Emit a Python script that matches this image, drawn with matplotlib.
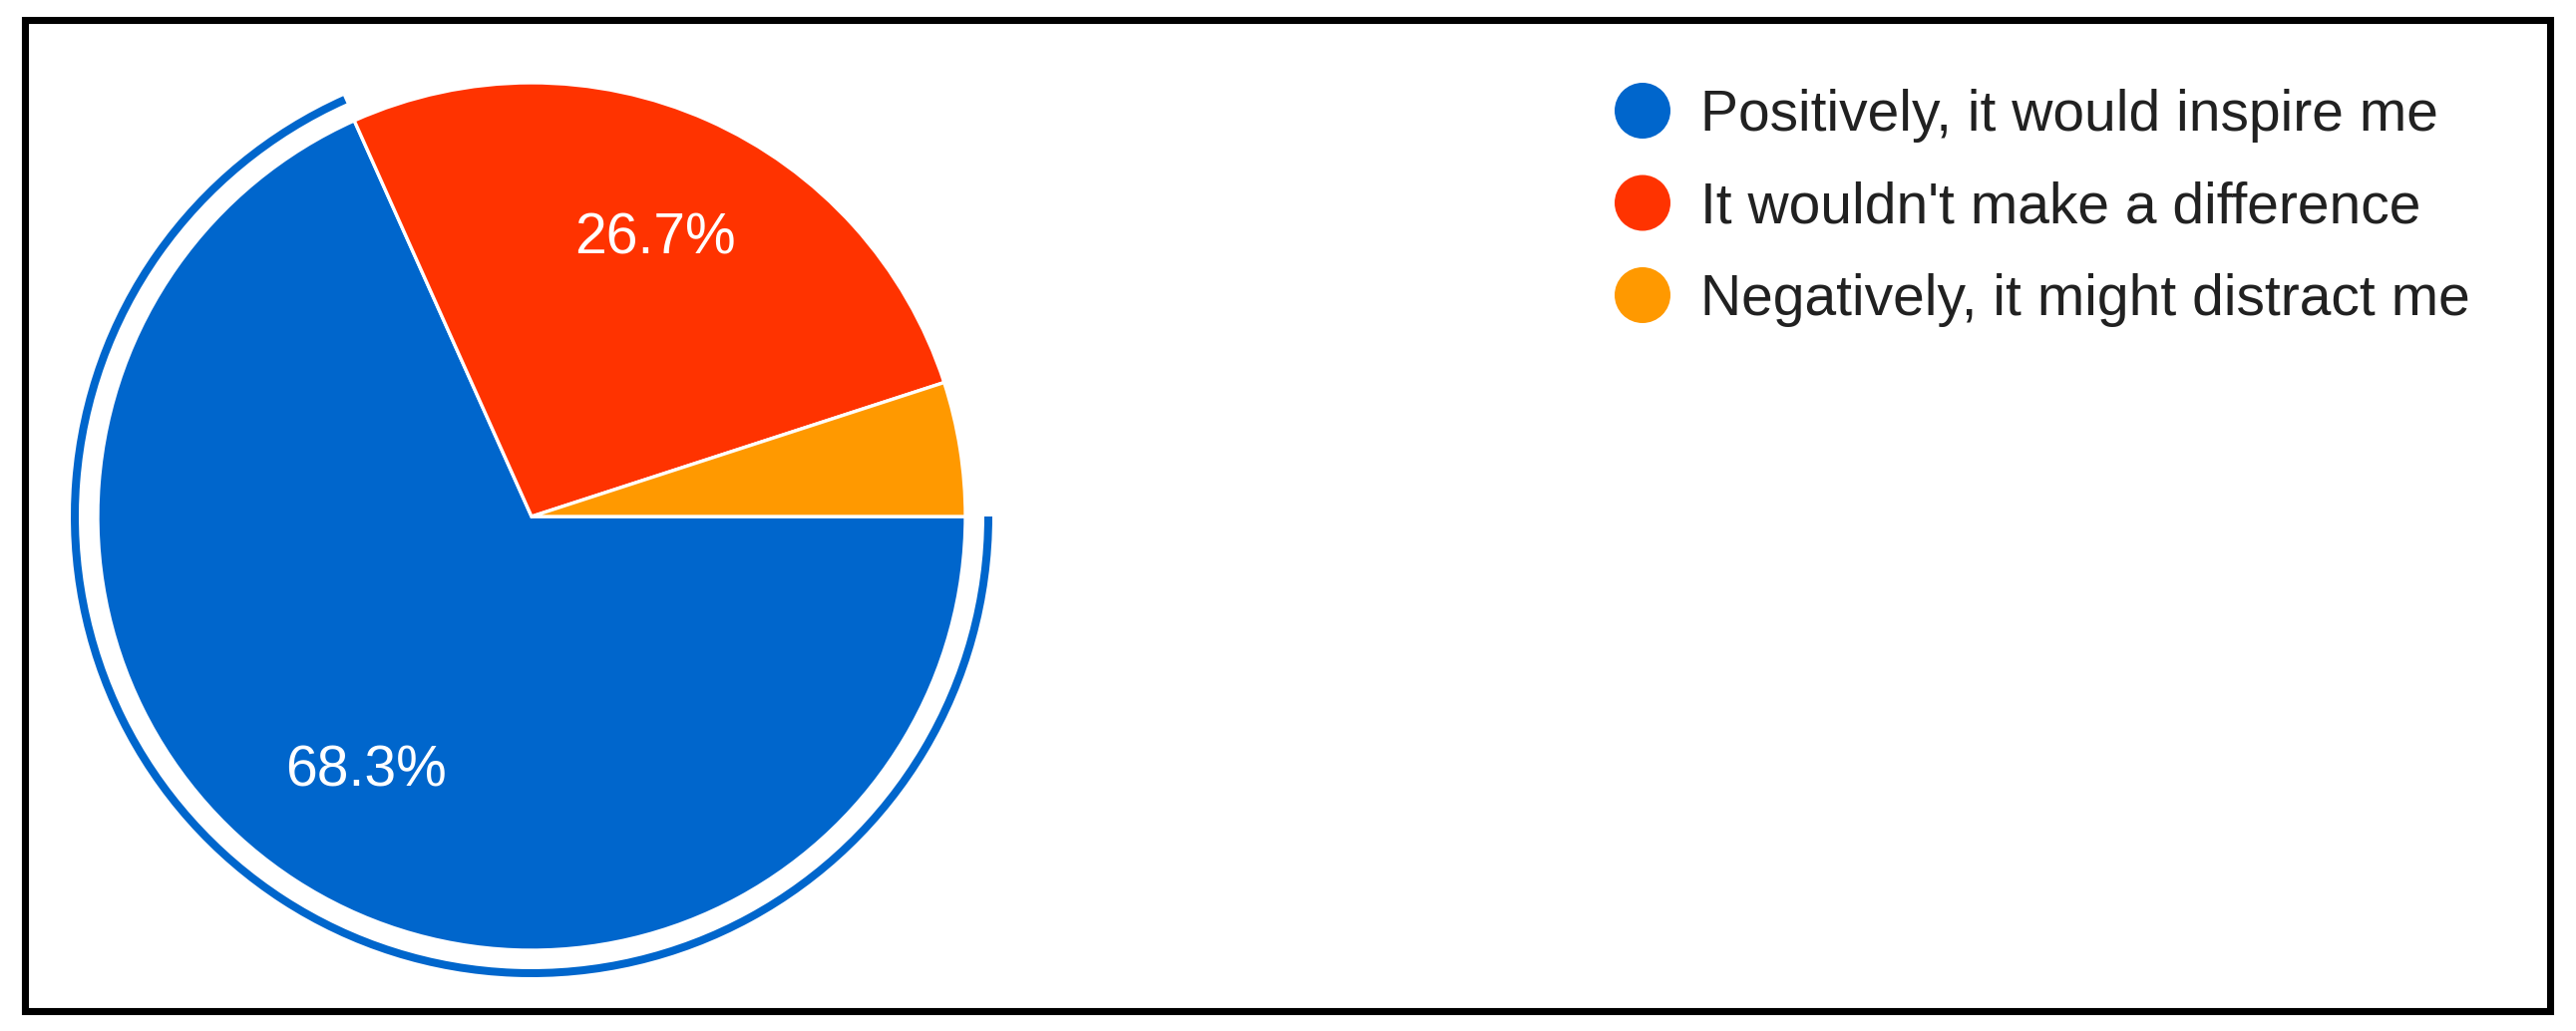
import matplotlib.pyplot as plt
from matplotlib.patches import Wedge, Rectangle, Circle

plt.rcParams['font.family'] = ['Liberation Sans', 'DejaVu Sans']

labels = ['Positively, it would inspire me',
          "It wouldn't make a difference",
          'Negatively, it might distract me']
values = [68.3, 26.7, 5.0]
colors = ['#0066CC', '#FF3300', '#FF9900']

W, H = 2583, 1034
fig = plt.figure(figsize=(W / 100, H / 100), dpi=100)
ax = fig.add_axes([0, 0, 1, 1])

cx, cy, R = 533, H - 518, 435


def pct_label(p):
    return f'{p:.1f}%' if p > 8 else ''


wedges, texts, autotexts = ax.pie(
    values, colors=colors, center=(cx, cy), radius=R,
    startangle=0, counterclock=False, autopct=pct_label,
    pctdistance=0.70, frame=True,
    wedgeprops=dict(edgecolor='white', linewidth=2.4),
    textprops=dict(color='white', fontsize=41))

# selection ring around the first slice
a_end = 360 - 360 * values[0] / sum(values)
ring = Wedge((cx, cy), 462, a_end, 360, width=8, facecolor=colors[0],
             edgecolor='none')
ax.add_patch(ring)

# legend
lx, ly0, dy = 1647, 111, 92.5
for i, (lab, col) in enumerate(zip(labels, colors)):
    yc = H - (ly0 + i * dy)
    ax.add_patch(Circle((lx, yc), 28, facecolor=col, edgecolor='none'))
    ax.text(lx + 58, yc - 20, lab, fontsize=41, color='#212121',
            ha='left', va='baseline')

# outer frame
ax.add_patch(Rectangle((24.5, H - 1013.5), 2532, 994, fill=False,
                       edgecolor='black', linewidth=5.1))

ax.set_xlim(0, W)
ax.set_ylim(0, H)
ax.set_aspect('equal')
ax.axis('off')

fig.savefig('out.png', dpi=100)
